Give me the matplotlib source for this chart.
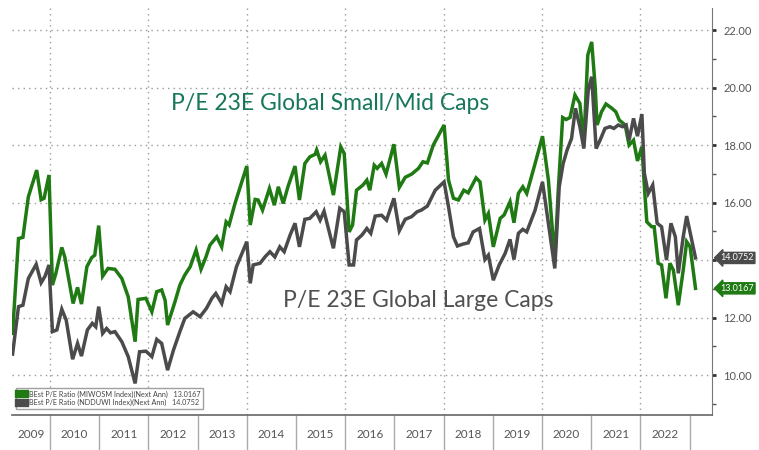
import numpy as np
import matplotlib.pyplot as plt
from matplotlib.ticker import FixedLocator, NullFormatter

# P/E next-year estimates (decimal year, ratio)
small_mid_t = [2009.24, 2009.36, 2009.45, 2009.56, 2009.73, 2009.82, 2009.88, 2009.98, 2010.05, 2010.12,
               2010.24, 2010.30, 2010.47, 2010.56, 2010.64, 2010.75, 2010.85, 2010.91, 2010.99, 2011.07,
               2011.18, 2011.32, 2011.46, 2011.59, 2011.73, 2011.79, 2011.95, 2012.07, 2012.17, 2012.27,
               2012.34, 2012.39, 2012.54, 2012.64, 2012.74, 2012.85, 2012.97, 2013.07, 2013.17, 2013.25,
               2013.39, 2013.49, 2013.58, 2013.64, 2013.76, 2014.00, 2014.07, 2014.17, 2014.23, 2014.32,
               2014.46, 2014.56, 2014.64, 2014.74, 2014.84, 2014.98, 2015.07, 2015.18, 2015.28, 2015.39,
               2015.42, 2015.50, 2015.59, 2015.76, 2015.91, 2015.98, 2016.08, 2016.15, 2016.23, 2016.36,
               2016.44, 2016.50, 2016.59, 2016.65, 2016.74, 2016.83, 2016.99, 2017.10, 2017.22, 2017.35,
               2017.49, 2017.58, 2017.67, 2017.79, 2018.01, 2018.10, 2018.20, 2018.30, 2018.41, 2018.50,
               2018.66, 2018.74, 2018.84, 2018.91, 2019.01, 2019.15, 2019.23, 2019.35, 2019.43, 2019.52,
               2019.61, 2019.69, 2019.86, 2020.01, 2020.13, 2020.26, 2020.33, 2020.42, 2020.49, 2020.57,
               2020.67, 2020.77, 2020.85, 2020.93, 2021.01, 2021.08, 2021.12, 2021.21, 2021.30, 2021.42,
               2021.50, 2021.57, 2021.69, 2021.77, 2021.86, 2021.94, 2022.03, 2022.09, 2022.13, 2022.23,
               2022.28, 2022.36, 2022.43, 2022.52, 2022.60, 2022.67, 2022.77, 2022.87, 2022.94, 2023.01,
               2023.12]
small_mid_pe = [11.45, 14.75, 14.79, 16.20, 17.13, 16.10, 16.15, 16.96, 13.13, 13.54,
                14.44, 14.11, 12.49, 13.05, 12.47, 13.77, 14.09, 14.17, 15.20, 13.44,
                13.71, 13.68, 13.36, 12.72, 11.16, 12.63, 12.67, 12.20, 12.90, 12.96,
                12.60, 11.74, 12.55, 13.13, 13.48, 13.77, 14.35, 13.68, 14.11, 14.52,
                14.81, 14.46, 15.33, 15.22, 15.97, 17.27, 15.22, 16.11, 16.09, 15.74,
                16.49, 15.91, 16.55, 15.97, 16.57, 17.27, 16.09, 17.36, 17.59, 17.68,
                17.83, 17.42, 17.65, 16.26, 17.94, 17.71, 14.98, 15.22, 16.43, 16.61,
                16.78, 16.43, 17.30, 17.19, 17.36, 16.99, 18.03, 16.53, 16.88, 16.99,
                17.19, 17.42, 17.38, 18.00, 18.70, 16.78, 16.15, 16.09, 16.43, 16.34,
                16.86, 16.72, 15.39, 15.62, 14.46, 15.45, 15.57, 16.03, 15.30, 16.32,
                16.55, 16.32, 17.36, 18.31, 16.78, 14.00, 16.43, 18.96, 18.89, 18.96,
                19.74, 19.45, 18.06, 21.13, 21.59, 20.03, 18.70, 19.16, 19.43, 19.28,
                19.16, 18.87, 18.70, 18.00, 18.17, 17.45, 17.94, 16.32, 15.33, 15.16,
                15.16, 13.89, 13.83, 12.67, 13.89, 13.65, 12.43, 13.65, 14.64, 14.46,
                13.0167]

large_t = [2009.24, 2009.36, 2009.45, 2009.56, 2009.72, 2009.82, 2009.90, 2009.98, 2010.05, 2010.14,
           2010.24, 2010.33, 2010.46, 2010.56, 2010.64, 2010.76, 2010.86, 2010.93, 2010.99, 2011.07,
           2011.15, 2011.23, 2011.32, 2011.46, 2011.59, 2011.73, 2011.82, 2011.95, 2012.07, 2012.17,
           2012.27, 2012.39, 2012.51, 2012.64, 2012.74, 2012.91, 2013.05, 2013.18, 2013.29, 2013.37,
           2013.49, 2013.58, 2013.66, 2013.79, 2014.00, 2014.07, 2014.13, 2014.27, 2014.37, 2014.47,
           2014.57, 2014.67, 2014.76, 2014.88, 2014.98, 2015.07, 2015.18, 2015.28, 2015.41, 2015.49,
           2015.57, 2015.76, 2015.89, 2015.98, 2016.08, 2016.17, 2016.23, 2016.34, 2016.44, 2016.52,
           2016.61, 2016.74, 2016.84, 2016.99, 2017.10, 2017.22, 2017.35, 2017.46, 2017.55, 2017.67,
           2017.83, 2018.01, 2018.10, 2018.20, 2018.28, 2018.40, 2018.50, 2018.60, 2018.73, 2018.84,
           2018.91, 2019.01, 2019.13, 2019.25, 2019.35, 2019.43, 2019.52, 2019.61, 2019.69, 2019.86,
           2020.01, 2020.13, 2020.26, 2020.35, 2020.43, 2020.51, 2020.60, 2020.68, 2020.77, 2020.85,
           2020.94, 2021.01, 2021.10, 2021.18, 2021.28, 2021.38, 2021.46, 2021.55, 2021.64, 2021.71,
           2021.77, 2021.86, 2021.94, 2022.03, 2022.08, 2022.16, 2022.25, 2022.34, 2022.43, 2022.53,
           2022.62, 2022.71, 2022.77, 2022.87, 2022.94, 2023.03, 2023.12]
large_pe = [10.73, 12.38, 12.43, 13.36, 13.85, 13.21, 13.44, 13.83, 11.51, 11.57,
            12.29, 11.91, 10.55, 11.10, 10.66, 11.57, 11.80, 11.68, 12.38, 11.45,
            11.62, 11.47, 11.51, 11.16, 10.64, 9.71, 10.81, 10.83, 10.64, 11.24,
            11.10, 10.17, 10.87, 11.51, 11.97, 12.20, 12.03, 12.32, 12.67, 12.84,
            12.49, 13.07, 12.90, 13.77, 14.64, 13.19, 13.83, 13.89, 14.11, 14.29,
            14.11, 14.46, 14.29, 14.87, 15.28, 14.46, 15.42, 15.45, 15.68, 15.39,
            15.70, 14.41, 15.80, 15.68, 13.83, 13.83, 14.70, 14.87, 15.10, 14.93,
            15.53, 15.56, 15.39, 16.15, 15.02, 15.42, 15.51, 15.68, 15.74, 15.88,
            16.43, 16.72, 15.85, 14.81, 14.49, 14.56, 14.60, 14.98, 15.10, 14.02,
            14.17, 13.30, 13.83, 14.23, 14.72, 14.02, 14.93, 15.07, 14.98, 15.74,
            16.72, 15.28, 13.71, 16.55, 17.36, 17.83, 18.23, 19.28, 18.64, 17.88,
            19.91, 20.38, 17.88, 18.17, 18.58, 18.64, 18.58, 18.70, 18.64, 18.70,
            18.17, 18.93, 18.31, 19.08, 17.02, 16.32, 16.61, 15.28, 15.16, 14.00,
            15.28, 14.81, 13.54, 14.81, 15.53, 14.81, 14.0752]

years = list(range(2009, 2023))
y_ticks = [10, 12, 14, 16, 18, 20, 22]
# the 14.00 label sits under the last-value tag in the reference
y_ticklabels = ["10.00", "12.00", "", "16.00", "18.00", "20.00", "22.00"]
legend_labels = ["BEst P/E Ratio (MIWOSM Index)(Next Ann)   13.0167",
                 "BEst P/E Ratio (NDDUWI Index)(Next Ann)   14.0752"]

green = "#1f7a14"
grey = "#4b4b4b"

plt.rcParams['font.family'] = ['Lato', 'DejaVu Sans']

fig = plt.figure(figsize=(7.59, 4.5), dpi=100)
ax = fig.add_axes([12/759, 35/450, 700/759, 407/450])

ax.plot(small_mid_t, small_mid_pe, color=green, lw=2.5, label=legend_labels[0], solid_joinstyle='miter')
ax.plot(large_t, large_pe, color=grey, lw=2.5, label=legend_labels[1], solid_joinstyle='miter')

x0, x1 = 2009.228, 2023.455
ax.set_xlim(x0, x1)
ax.set_ylim(8.61, 22.77)

# grid
for v in y_ticks:
    ax.axhline(v, color="#9a9a9a", lw=1, ls=(0, (1, 3)), zorder=0)
for y in range(2010, 2023, 2):
    ax.axvline(y, color="#9a9a9a", lw=1, ls=(0, (1, 3)), zorder=0)

# right axis
ax.yaxis.tick_right()
ax.yaxis.set_major_locator(FixedLocator(y_ticks))
ax.yaxis.set_minor_locator(FixedLocator(range(9, 23, 2)))
ax.set_yticklabels(y_ticklabels)
ax.tick_params(axis='y', which='major', length=3, width=2, color="#333333", pad=5,
               labelsize=8, labelcolor="#555555")
ax.tick_params(axis='y', which='minor', length=3, width=1, color="#555555")

# year band under the plot
ax.xaxis.set_major_locator(FixedLocator(years[1:] + [2023]))
ax.xaxis.set_major_formatter(NullFormatter())
ax.tick_params(axis='x', which='major', length=26, width=1, color="#aaaaaa", direction='out')
label_pos = [(x0 + 2010) / 2] + [y + 0.5 for y in years[1:]]
ax.xaxis.set_minor_locator(FixedLocator(label_pos))
ax.set_xticklabels([str(y) for y in years], minor=True)
ax.tick_params(axis='x', which='minor', length=0, pad=10, labelsize=8.5, labelcolor="#555555")

for s in ['top', 'left']:
    ax.spines[s].set_visible(False)
ax.spines['right'].set_color("#777777")
ax.spines['bottom'].set_color("#666666")
ax.spines['bottom'].set_linewidth(1.2)

# annotations
ax.text(2012.45, 19.45, "P/E 23E Global Small/Mid Caps", color="#17775a", fontsize=16.5, va='center')
ax.text(2014.73, 12.6, "P/E 23E Global Large Caps", color="#505050", fontsize=16.5, va='center')

# last value tags
ax.annotate("14.0752", xy=(1.0, large_pe[-1]), xycoords=('axes fraction', 'data'),
            xytext=(6, 0), textcoords='offset points', va='center', ha='left',
            fontsize=6.5, color="white",
            bbox=dict(boxstyle="larrow,pad=0.12", fc=grey, ec=grey))
ax.annotate("13.0167", xy=(1.0, small_mid_pe[-1]), xycoords=('axes fraction', 'data'),
            xytext=(6, 0), textcoords='offset points', va='center', ha='left',
            fontsize=6.5, color="white",
            bbox=dict(boxstyle="larrow,pad=0.12", fc=green, ec=green))

leg = ax.legend(loc='lower left', bbox_to_anchor=(0.0, 0.005), fontsize=5.2, frameon=True,
                handlelength=0.9, handleheight=0.9, borderpad=0.4, labelspacing=0.15,
                handletextpad=0.5, fancybox=False, labelcolor="#444444")
leg.get_frame().set_edgecolor("#888888")
for h in leg.legend_handles:
    h.set_linewidth(6)

fig.savefig("out.png", dpi=100)
